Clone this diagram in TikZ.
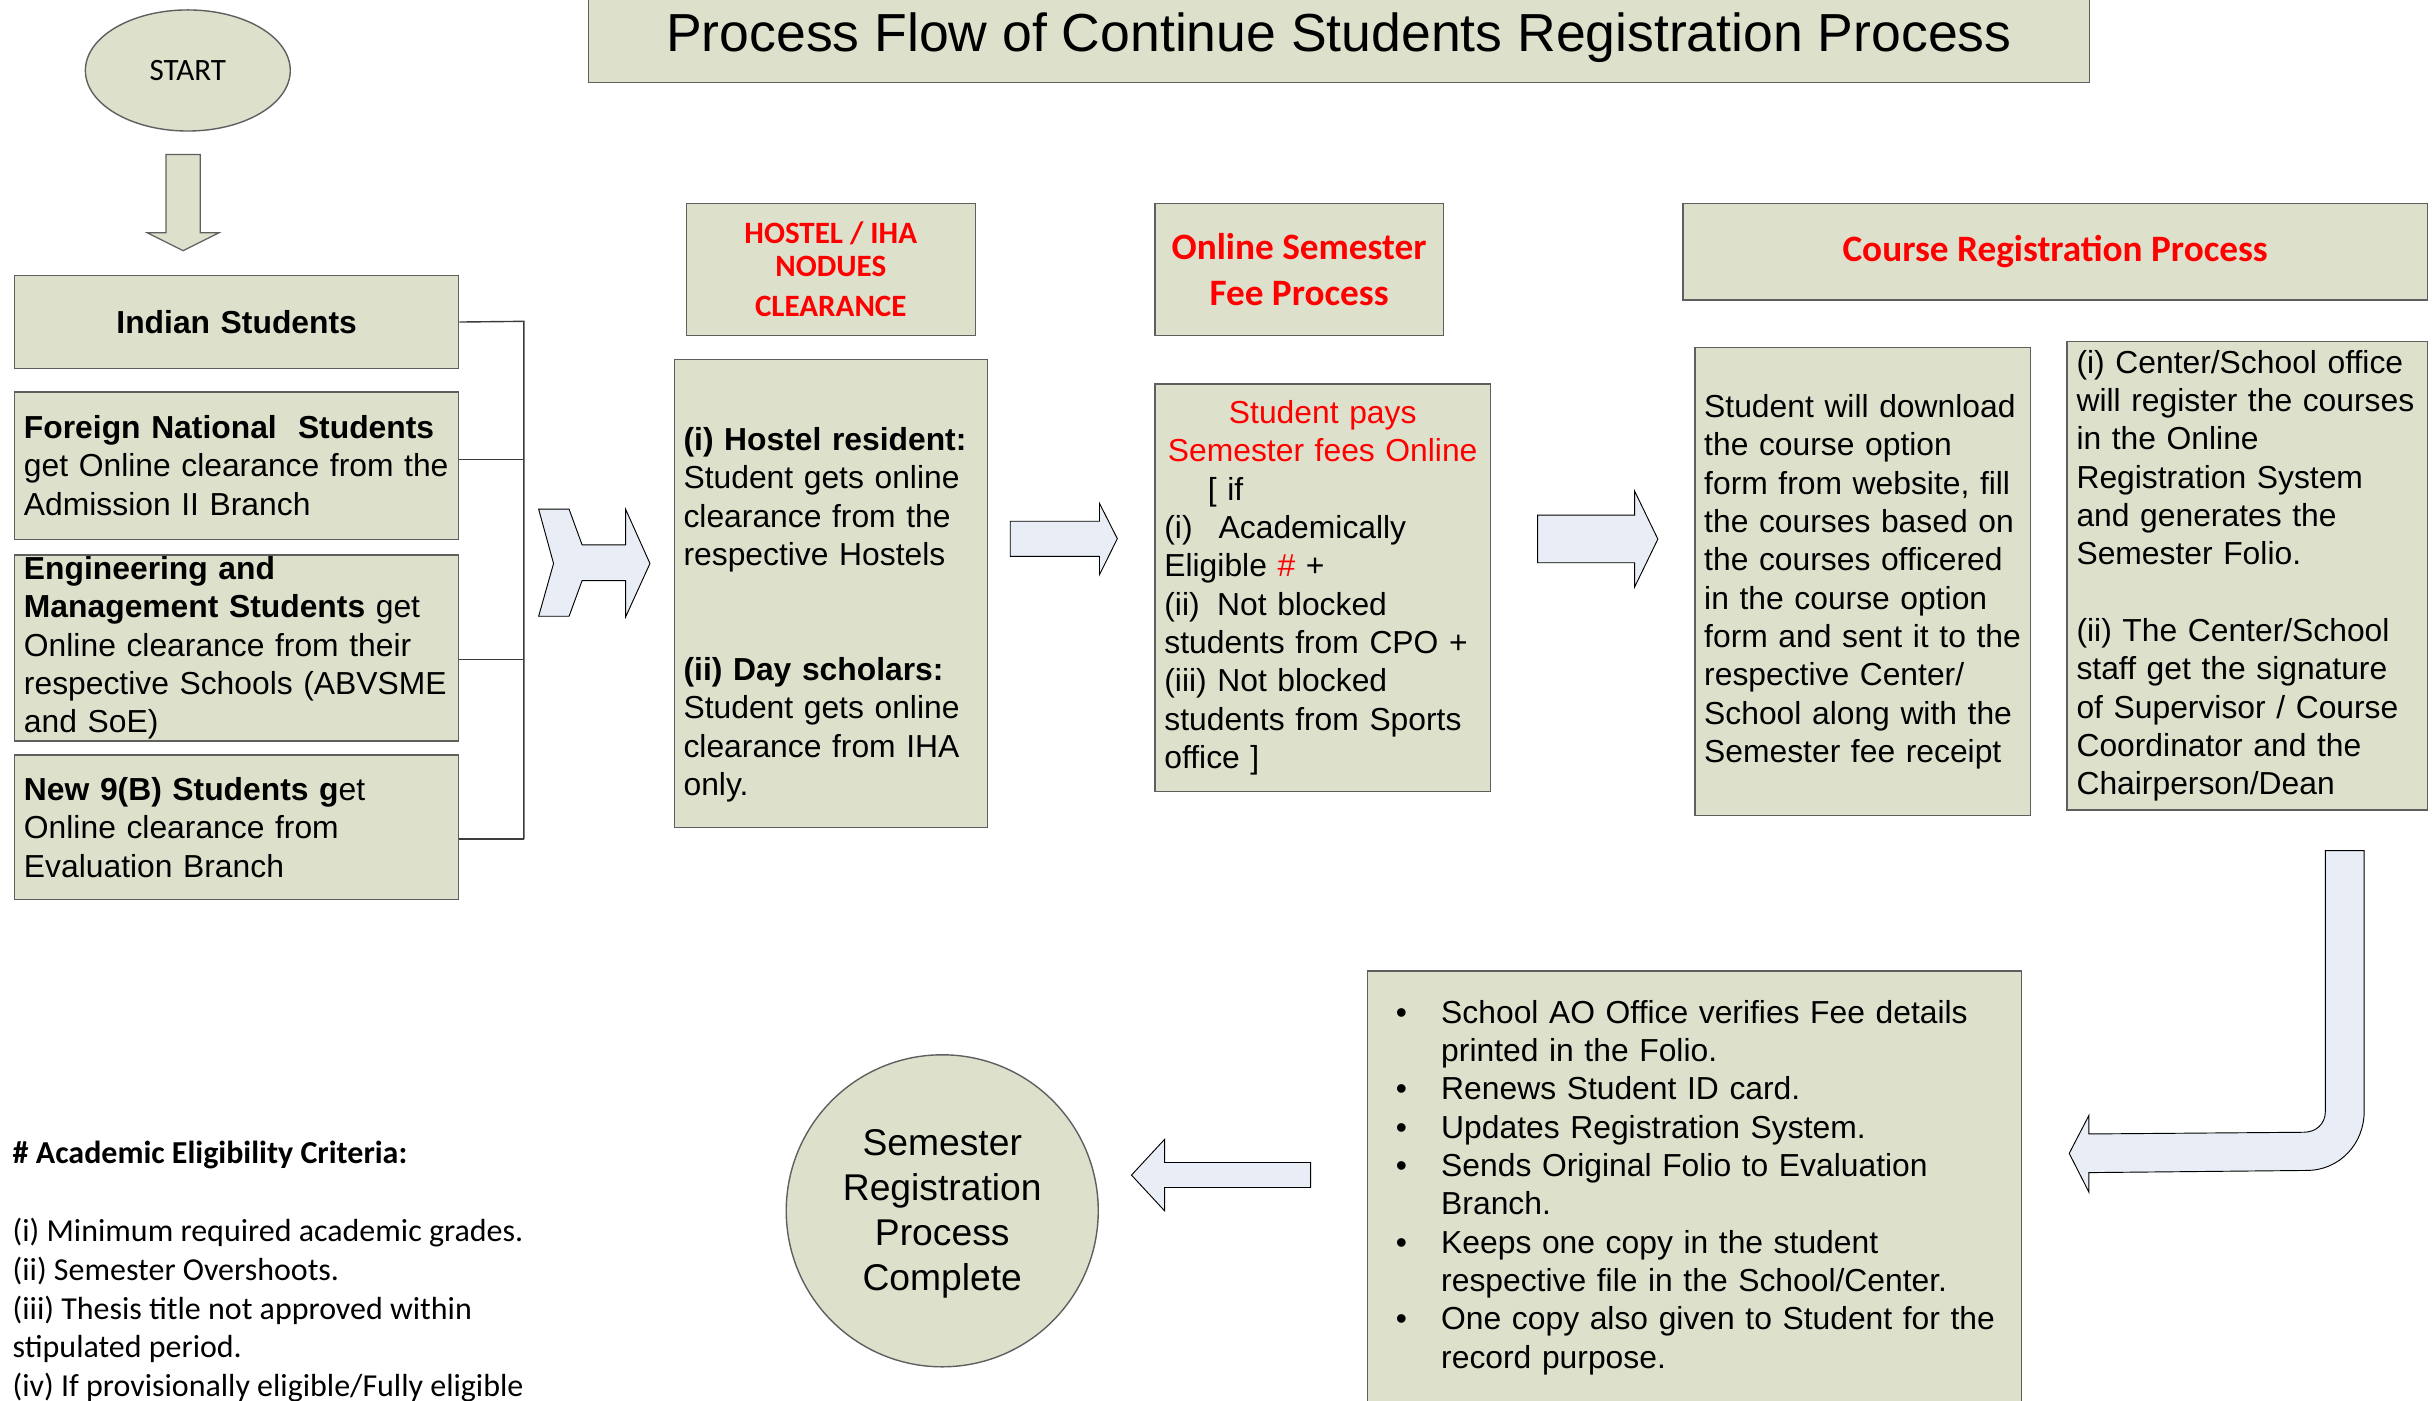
\documentclass[tikz,border=0pt]{standalone}
\usepackage{fontspec}
\setmainfont{Liberation Sans}
\newfontfamily\calfont{Carlito}
\usetikzlibrary{shapes.geometric}
\definecolor{boxfill}{RGB}{221,225,204}
\definecolor{arrowfill}{RGB}{232,237,246}
\definecolor{boxline}{RGB}{95,95,95}
\definecolor{conncol}{RGB}{60,60,60}
\tikzset{
  box/.style={draw=boxline, fill=boxfill, line width=0.9pt, inner sep=0pt, anchor=north west,
    align=left, font=\fontsize{20.5}{24.7}\selectfont},
  hdr/.style={box, align=center, text=red, font=\calfont\bfseries\fontsize{24}{29}\selectfont},
  blockarrow/.style={draw=black, fill=arrowfill, line width=0.6pt, line join=miter},
  oliveshape/.style={draw=boxline, fill=boxfill, line width=0.8pt, line join=miter},
  conn/.style={draw=conncol, line width=0.9pt},
}
\begin{document}
\begin{tikzpicture}[x=1pt,y=-1pt]
\useasboundingbox (0,0) rectangle (1568,902.5);
\fill[white] (0,0) rectangle (1568,902.5);

% title
\node[box, anchor=base, align=center, minimum width=967pt, text height=34.3pt, text depth=19.7pt,
  font=\fontsize{34.5}{41}\selectfont] (title) at (862.5,33.3)
  {Process Flow of Continue Students Registration Process};

% start
\node[ellipse, draw=boxline, fill=boxfill, line width=0.9pt, minimum width=132pt, minimum height=78pt,
  inner sep=0pt, font=\calfont\fontsize{20}{24}\selectfont] (start) at (121,45.4) {START};

% down arrow
\path[oliveshape] (107,99.5) -- (129,99.5) -- (129,150) -- (141,150) -- (118,161.5) -- (95,150) -- (107,150) -- cycle;

% left column
\node[box, align=center, minimum width=286pt, minimum height=60pt, text width=274pt,
  font=\bfseries\fontsize{20.5}{24.7}\selectfont] (indian) at (9,177) {Indian Students};
\node[box, minimum width=286pt, minimum height=95pt, text width=274pt] (foreign) at (9,252)
  {\textbf{Foreign National\ \ Students}\\get Online clearance from the\\Admission II Branch};
\node[box, minimum width=286pt, minimum height=120pt, text width=274pt] (eng) at (9,357)
  {\textbf{Engineering and}\\\textbf{Management Students} get\\Online clearance from their\\respective Schools (ABVSME\\and SoE)};
\node[box, minimum width=286pt, minimum height=93pt, text width=274pt] (newb) at (9,486)
  {\textbf{New 9(B) Students g}et\\Online clearance from\\Evaluation Branch};

% bracket
\coordinate (b1) at (337.5,207);
\coordinate (b2) at (337.5,296);
\coordinate (b3) at (337.5,425);
\coordinate (b4) at (337.5,540.5);
\draw[conn] (indian.east) -- (b1) -- (b4);
\draw[conn] (foreign.east |- b2) -- (b2);
\draw[conn] (eng.east |- b3) -- (b3);
\draw[conn] (newb.east |- b4) -- (b4);

% chevron arrow
\path[blockarrow] (347,328) -- (366.6,328) -- (375,351) -- (403,351) -- (403,328) -- (418.7,363)
  -- (403,397.5) -- (403,374) -- (375,374) -- (366.6,397) -- (347,397) -- (356.6,363) -- cycle;

% hostel
\node[hdr, minimum width=186.1pt, minimum height=85.2pt,
  font=\calfont\bfseries\fontsize{20}{21}\selectfont] (hosthead) at (441.7,130.6)
  {HOSTEL / IHA\\NODUES\\[5pt]CLEARANCE};
\node[box, minimum width=201.7pt, minimum height=301.4pt, text width=189.7pt] (hostbody) at (433.9,231.3)
  {\strut\\\textbf{(i) Hostel resident:}\\Student gets online\\clearance from the\\respective Hostels\\[49.4pt]\textbf{(ii) Day scholars:}\\Student gets online\\clearance from IHA\\only.};

% arrow 2
\path[blockarrow] (650.8,335.8) -- (708.3,335.8) -- (708.3,324.3) -- (719.8,347) -- (708.3,370.2)
  -- (708.3,358.4) -- (650.8,358.4) -- cycle;

% fee
\node[hdr, minimum width=185.7pt, minimum height=85.2pt] (feehead) at (743.6,130.6)
  {Online Semester\\Fee Process};
\node[box, minimum width=216.1pt, minimum height=262.8pt, text width=204pt] (feebody) at (743.6,246.8)
  {\makebox[204pt][c]{\color{red}Student pays}\\
   \makebox[204pt][c]{\color{red}Semester fees Online}\\
   \hspace*{28pt}[ if\\
   \makebox[35pt][l]{(i)}Academically\\
   Eligible \textcolor{red}{\#} +\\
   \makebox[34pt][l]{(ii)}Not blocked\\
   students from CPO +\\
   (iii) Not blocked\\
   students from Sports\\
   office ]};

% arrow 3
\path[blockarrow] (990.5,331.8) -- (1053,331.8) -- (1053,316.3) -- (1068,347.3) -- (1053,378.2)
  -- (1053,362.5) -- (990.5,362.5) -- cycle;

% course registration
\node[hdr, minimum width=479.6pt, minimum height=62.3pt] (coursehead) at (1083.7,130.6)
  {Course Registration Process};
\node[box, minimum width=216.3pt, minimum height=301.4pt, text width=204.3pt] (course1) at (1091.4,223.6)
  {Student will download\\the course option\\form from website, fill\\the courses based on\\the courses officered\\in the course option\\form and sent it to the\\respective Center/\\School along with the\\Semester fee receipt};
\node[box, minimum width=232.1pt, minimum height=301.8pt, text width=220pt] (course2) at (1331.2,219.6)
  {(i) Center/School office\\will register the courses\\in the Online\\Registration System\\and generates the\\Semester Folio.\\[24.7pt](ii) The Center/School\\staff get the signature\\of Supervisor / Course\\Coordinator and the\\Chairperson/Dean};

% bent arrow
\path[blockarrow] (1498,548) -- (1523,548) -- (1523,716)
  .. controls (1523,737) and (1507,754) .. (1486,754)
  -- (1345.7,755.4) -- (1345.7,768) -- (1333,743) -- (1345.7,718.5) -- (1345.7,730.5)
  -- (1484,729.4) .. controls (1492,729.4) and (1498,724) .. (1498,716) -- cycle;

% AO box
\node[box, minimum width=421.2pt, minimum height=279pt, text width=395pt] (ao) at (880.6,625)
  {\makebox[34.3pt][l]{\hspace*{5pt}\textbullet}School AO Office verifies Fee details\\
   \hspace*{34.3pt}printed in the Folio.\\
   \makebox[34.3pt][l]{\hspace*{5pt}\textbullet}Renews Student ID card.\\
   \makebox[34.3pt][l]{\hspace*{5pt}\textbullet}Updates Registration System.\\
   \makebox[34.3pt][l]{\hspace*{5pt}\textbullet}Sends Original Folio to Evaluation\\
   \hspace*{34.3pt}Branch.\\
   \makebox[34.3pt][l]{\hspace*{5pt}\textbullet}Keeps one copy in the student\\
   \hspace*{34.3pt}respective file in the School/Center.\\
   \makebox[34.3pt][l]{\hspace*{5pt}\textbullet}One copy also given to Student for the\\
   \hspace*{34.3pt}record purpose.};

% left arrow
\path[blockarrow] (844.3,748.9) -- (750.2,748.9) -- (750.2,734) -- (728.9,757) -- (750.2,780)
  -- (750.2,765) -- (844.3,765) -- cycle;

% completion circle
\node[circle, draw=boxline, fill=boxfill, line width=0.9pt, minimum size=201pt, inner sep=0pt,
  align=center, font=\fontsize{24}{29}\selectfont] (done) at (607,780)
  {\strut Semester\\Registration\\Process\\Complete};

% legend
\node[anchor=north west, inner sep=0pt, align=left, font=\calfont\fontsize{20.6}{25}\selectfont] (legend) at (8,732)
  {\strut\textbf{\# Academic Eligibility Criteria:}\\[25pt]
   (i) Minimum required academic grades.\\
   (ii) Semester Overshoots.\\
   (iii) Thesis title not approved within\\
   stipulated period.\\
   (iv) If provisionally eligible/Fully eligible};
\end{tikzpicture}
\end{document}
